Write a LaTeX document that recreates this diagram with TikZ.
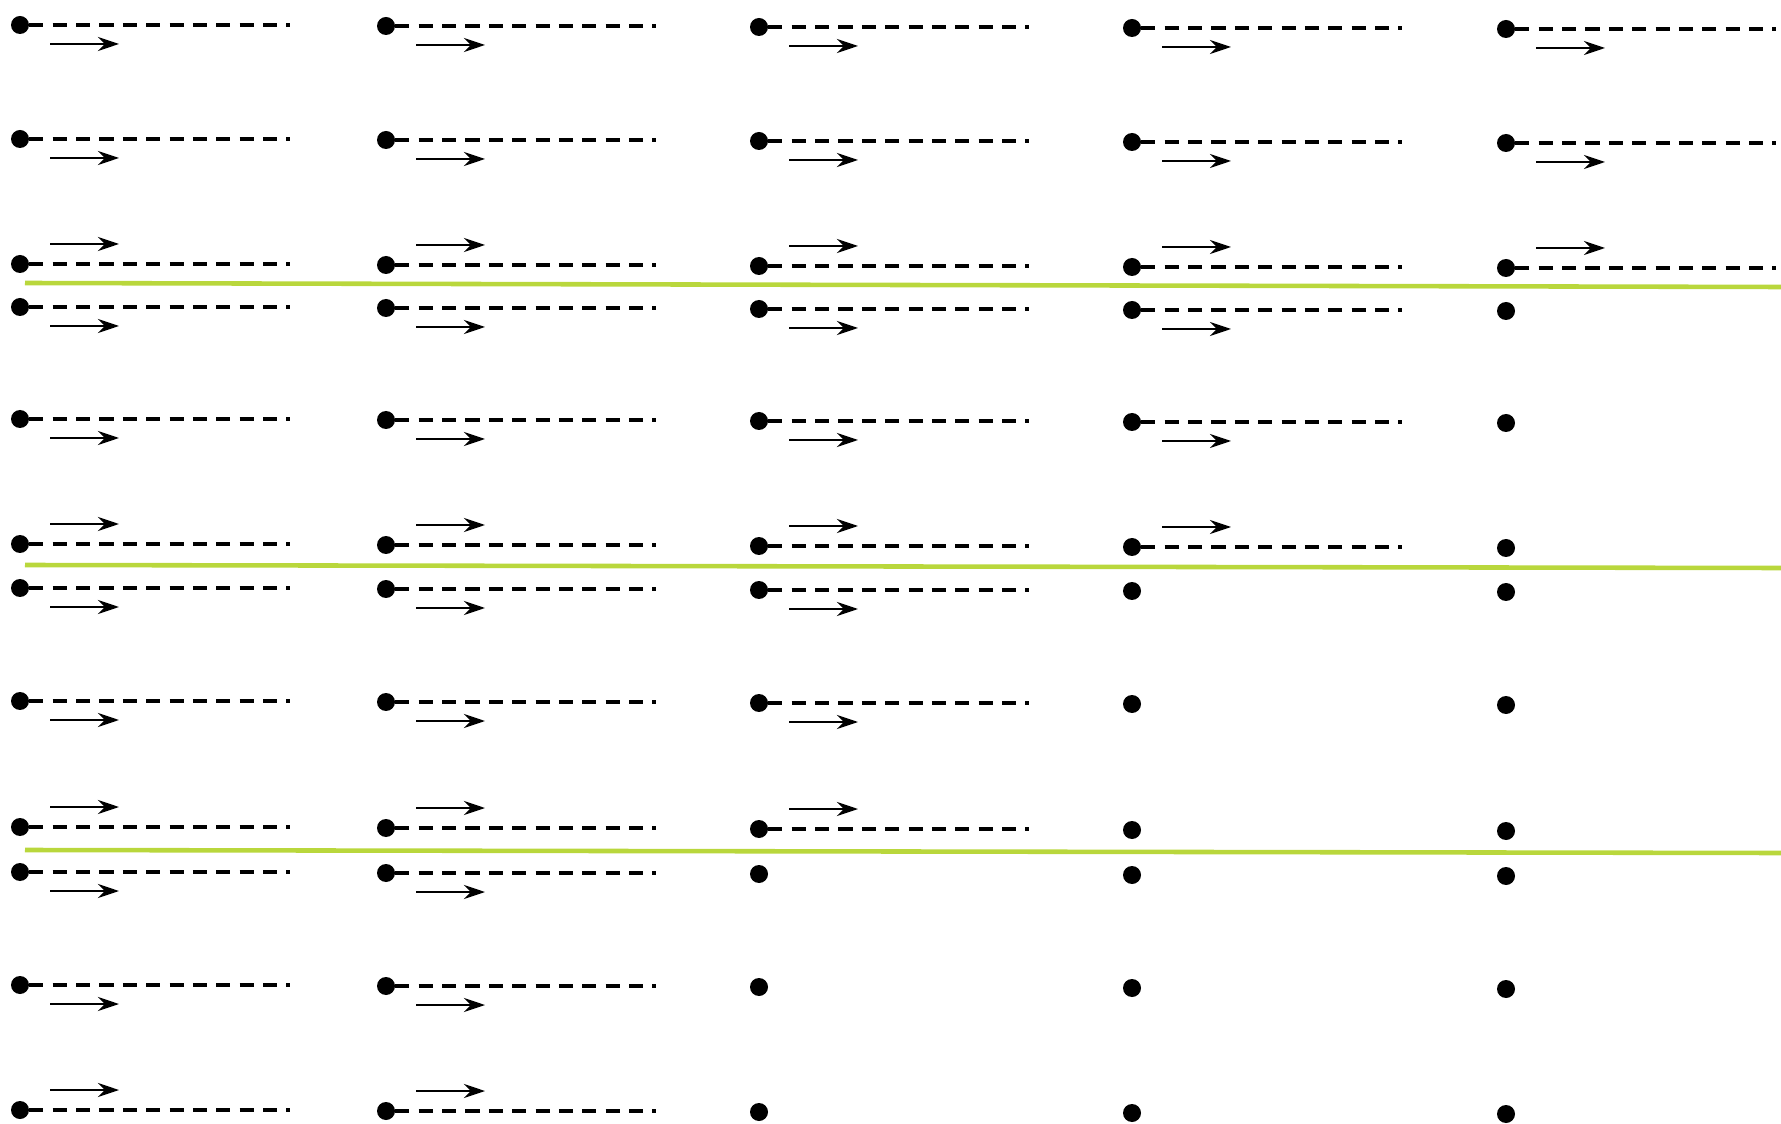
\documentclass[tikz,border=0pt]{standalone}
\usetikzlibrary{arrows.meta}

\definecolor{bandgreen}{RGB}{185,215,60}

\tikzset{
	dot/.style={circle, fill, inner sep=0pt, minimum size=0.36cm},
	track/.style={line width=2.8pt, dash pattern=on 8pt off 5.3pt},
	move/.style={-{Stealth[length=12pt,width=8pt]}, line width=1.3pt},
	band/.style={bandgreen, line width=2.6pt},
}

\begin{document}
\begin{tikzpicture}[x=0.02cm, y=-0.02cm]
		\useasboundingbox (0,0) rectangle (1781,1124);
		
		% Band borders
		\coordinate (b1s) at (25,283);  \coordinate (b1e) at (1781,287);
		\coordinate (b2s) at (25,565);  \coordinate (b2e) at (1781,568);
		\coordinate (b3s) at (25,850);  \coordinate (b3e) at (1781,853);
		\draw[band] (b1s) -- (b1e);
		\draw[band] (b2s) -- (b2e);
		\draw[band] (b3s) -- (b3e);
		
		% Rows: number / y / arrow offset / columns with a track
		\foreach \r/\y/\a/\n in {1/25/19/5, 2/139/19/5, 3/264/-20/5,
			4/307/19/4, 5/419/19/4, 6/544/-20/4,
			7/588/19/3, 8/701/19/3, 9/827/-20/3,
			10/872/19/2, 11/985/19/2, 12/1110/-20/2}{
			\foreach \c/\x/\d in {1/20/0, 2/386/1, 3/759/2, 4/1132/3, 5/1506/4}{
				\node[dot] (p\r-\c) at (\x,\y+\d) {};
				\ifnum\c>\n\else
					\coordinate (e\r-\c) at (\x+270,\y+\d);
					\coordinate (s\r-\c) at (\x+30,\y+\d+\a);
					\coordinate (t\r-\c) at (\x+99,\y+\d+\a);
					\draw[track] (p\r-\c) -- (e\r-\c);
					\draw[move] (s\r-\c) -- (t\r-\c);
				\fi
			}
		}
		
	\end{tikzpicture}
\end{document}
